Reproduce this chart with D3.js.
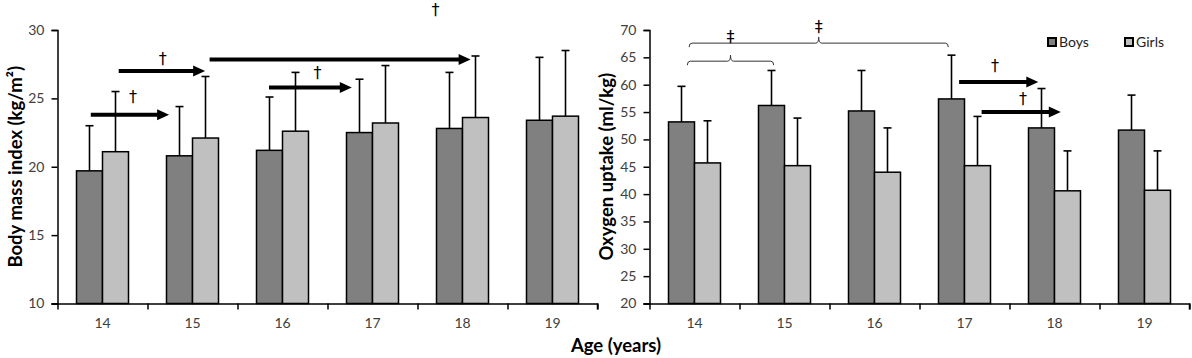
<!DOCTYPE html>
<html>
<head>
<meta charset="utf-8">
<script src="https://cdn.jsdelivr.net/npm/d3@7"></script>
<style>
  body { margin: 0; background: #fff; }
  svg text { font-family: Lato, "Open Sans", sans-serif; }
</style>
</head>
<body>
<svg id="chart" width="1192" height="358"></svg>
<script>
// data (mean and SD)
const ages = ["14", "15", "16", "17", "18", "19"];
const groups = ["Boys", "Girls"];

const bmiBoys = [19.7, 20.8, 21.2, 22.5, 22.8, 23.4];
const bmiBoysSd = [3.3, 3.6, 3.9, 3.9, 4.1, 4.6];
const bmiGirls = [21.1, 22.1, 22.6, 23.2, 23.6, 23.7];
const bmiGirlsSd = [4.4, 4.5, 4.3, 4.2, 4.5, 4.8];

const vo2Boys = [53.2, 56.2, 55.2, 57.4, 52.1, 51.7];
const vo2BoysSd = [6.5, 6.4, 7.4, 8.0, 7.2, 6.4];
const vo2Girls = [45.7, 45.2, 44.0, 45.2, 40.6, 40.7];
const vo2GirlsSd = [7.7, 8.7, 8.1, 9.0, 7.3, 7.2];

const bmiTicks = [10, 15, 20, 25, 30];
const vo2Ticks = [20, 25, 30, 35, 40, 45, 50, 55, 60, 65, 70];

// annotations: x in category units (0 = left edge of "14"), y in data units
const bmiArrows = [
  {x0: 0.37, x1: 1.24, y: 23.8},
  {x0: 0.68, x1: 1.64, y: 27.0},
  {x0: 1.69, x1: 4.59, y: 27.85},
  {x0: 2.35, x1: 3.27, y: 25.8}
];
const bmiMarks = [
  {x: 0.84, y: 25.15, s: "†"},
  {x: 1.17, y: 27.9, s: "†"},
  {x: 4.2, y: 31.5, s: "†"},
  {x: 2.89, y: 26.9, s: "†"}
];
const vo2Arrows = [
  {x0: 3.44, x1: 4.32, y: 60.5},
  {x0: 3.69, x1: 4.57, y: 55.0}
];
const vo2Brackets = [
  {x0: 0.42, x1: 1.38, y: 64.3},
  {x0: 0.44, x1: 3.32, y: 67.6}
];
const vo2Marks = [
  {x: 3.84, y: 63.6, s: "†"},
  {x: 4.15, y: 57.5, s: "†"},
  {x: 0.9, y: 68.8, s: "‡"},
  {x: 1.88, y: 70.6, s: "‡"}
];

const colors = {Boys: "#808080", Girls: "#c0c0c0"};

const svg = d3.select("#chart");
const plotTop = 30, plotBottom = 303.5;

function panel(opt) {
  const g = svg.append("g");

  const x = d3.scaleBand().domain(ages).range(opt.xr);
  const xc = d3.scaleLinear().domain([0, ages.length]).range(opt.xr);
  const bw = 26;
  const x1 = d3.scaleBand().domain(groups)
      .range([x.bandwidth() / 2 - bw, x.bandwidth() / 2 + bw]);
  const y = d3.scaleLinear().domain(opt.yd).range([plotBottom, plotTop]);

  const rows = ages.map((a, i) => ({
    age: a,
    vals: [
      {grp: "Boys", m: opt.boys[i], sd: opt.boysSd[i]},
      {grp: "Girls", m: opt.girls[i], sd: opt.girlsSd[i]}
    ]
  }));

  // y axis
  const ya = g.append("g")
      .attr("transform", `translate(${opt.xr[0]},0)`)
      .call(d3.axisLeft(y).tickValues(opt.ticks).tickSize(6).tickPadding(7));
  ya.select(".domain").attr("stroke", "#000").attr("stroke-width", 1.5);
  ya.selectAll(".tick line").attr("stroke", "#000").attr("stroke-width", 1.5);
  ya.selectAll("text").attr("font-size", 14).attr("fill", "#404040")
      .style("font-family", "Lato, sans-serif");

  // bars + error bars
  const grp = g.selectAll(".age").data(rows).enter().append("g")
      .attr("transform", d => `translate(${x(d.age)},0)`);

  const cell = grp.selectAll(".bar").data(d => d.vals).enter().append("g");

  cell.append("line")
      .attr("x1", d => x1(d.grp) + x1.bandwidth() / 2)
      .attr("x2", d => x1(d.grp) + x1.bandwidth() / 2)
      .attr("y1", d => y(d.m))
      .attr("y2", d => y(d.m + d.sd))
      .attr("stroke", "#000").attr("stroke-width", 1.6);
  cell.append("line")
      .attr("x1", d => x1(d.grp) + x1.bandwidth() / 2 - 4)
      .attr("x2", d => x1(d.grp) + x1.bandwidth() / 2 + 4)
      .attr("y1", d => y(d.m + d.sd))
      .attr("y2", d => y(d.m + d.sd))
      .attr("stroke", "#000").attr("stroke-width", 1.6);
  cell.append("rect")
      .attr("x", d => x1(d.grp))
      .attr("width", x1.bandwidth())
      .attr("y", d => y(d.m))
      .attr("height", d => plotBottom - y(d.m))
      .attr("fill", d => colors[d.grp])
      .attr("stroke", "#000").attr("stroke-width", 1.5);

  // x axis: boundary ticks + category labels
  const xa = g.append("g")
      .attr("transform", `translate(0,${plotBottom})`)
      .call(d3.axisBottom(xc).tickValues(d3.range(ages.length + 1)).tickSize(6).tickFormat(""));
  xa.select(".domain").attr("stroke", "#000").attr("stroke-width", 1.5)
      .attr("d", `M${opt.xr[0] - 6},0.5H${opt.xr[1]}V6`);
  xa.selectAll(".tick line").attr("stroke", "#000").attr("stroke-width", 1.5);

  const xl = g.append("g")
      .attr("transform", `translate(0,${plotBottom})`)
      .call(d3.axisBottom(x).tickSize(0).tickPadding(15));
  xl.select(".domain").remove();
  xl.selectAll("text").attr("font-size", 14).attr("fill", "#404040")
      .style("font-family", "Lato, sans-serif");

  // axis title
  g.append("text")
      .attr("transform", `translate(${opt.titleX},${(plotTop + plotBottom) / 2}) rotate(-90)`)
      .attr("text-anchor", "middle")
      .attr("font-size", 18.5).attr("font-weight", "bold")
      .text(opt.title);

  // arrows
  (opt.arrows || []).forEach(a => {
    const xs = xc(a.x0), xe = xc(a.x1), yy = y(a.y);
    g.append("line")
        .attr("x1", xs).attr("x2", xe - 10).attr("y1", yy).attr("y2", yy)
        .attr("stroke", "#000").attr("stroke-width", 4);
    g.append("path")
        .attr("d", `M${xe},${yy}L${xe - 12},${yy - 5.5}L${xe - 12},${yy + 5.5}Z`)
        .attr("fill", "#000");
  });

  // brackets
  (opt.brackets || []).forEach(b => {
    const xs = xc(b.x0), xe = xc(b.x1), xm = (xs + xe) / 2, yy = y(b.y);
    g.append("path")
        .attr("d", `M${xs},${yy + 4}Q${xs},${yy} ${xs + 3},${yy}L${xm - 3},${yy}` +
                   `Q${xm},${yy} ${xm},${yy - 6}Q${xm},${yy} ${xm + 3},${yy}` +
                   `L${xe - 3},${yy}Q${xe},${yy} ${xe},${yy + 4}`)
        .attr("fill", "none").attr("stroke", "#333").attr("stroke-width", 1);
  });

  // significance marks
  g.selectAll(".mark").data(opt.marks || []).enter().append("text")
      .attr("x", d => xc(d.x))
      .attr("y", d => y(d.y))
      .attr("dy", "0.35em")
      .attr("text-anchor", "middle")
      .attr("font-size", 16)
      .attr("fill", "#000")
      .style("font-family", "'DejaVu Sans', sans-serif")
      .text(d => d.s);
}

panel({
  xr: [57.5, 597.5], yd: [10, 30], ticks: bmiTicks,
  boys: bmiBoys, boysSd: bmiBoysSd, girls: bmiGirls, girlsSd: bmiGirlsSd,
  title: "Body mass index (kg/m²)", titleX: 22,
  arrows: bmiArrows, marks: bmiMarks
});

panel({
  xr: [649.5, 1189.5], yd: [20, 70], ticks: vo2Ticks,
  boys: vo2Boys, boysSd: vo2BoysSd, girls: vo2Girls, girlsSd: vo2GirlsSd,
  title: "Oxygen uptake (ml/kg)", titleX: 613,
  arrows: vo2Arrows, brackets: vo2Brackets, marks: vo2Marks
});

// shared x title
svg.append("text")
    .attr("x", 616).attr("y", 351.5)
    .attr("text-anchor", "middle")
    .attr("font-size", 18.5).attr("font-weight", "bold")
    .text("Age (years)");

// legend
const legendX = d3.scaleOrdinal().domain(groups).range([1047, 1124]);
const lg = svg.selectAll(".legend").data(groups).enter().append("g")
    .attr("transform", d => `translate(${legendX(d)},37)`);
lg.append("rect")
    .attr("x", 1).attr("y", 1).attr("width", 8).attr("height", 8)
    .attr("fill", d => colors[d]).attr("stroke", "#000").attr("stroke-width", 2);
lg.append("text")
    .attr("x", 12).attr("y", 9.5)
    .attr("font-size", 14).attr("fill", "#222")
    .text(d => d);
</script>
</body>
</html>
